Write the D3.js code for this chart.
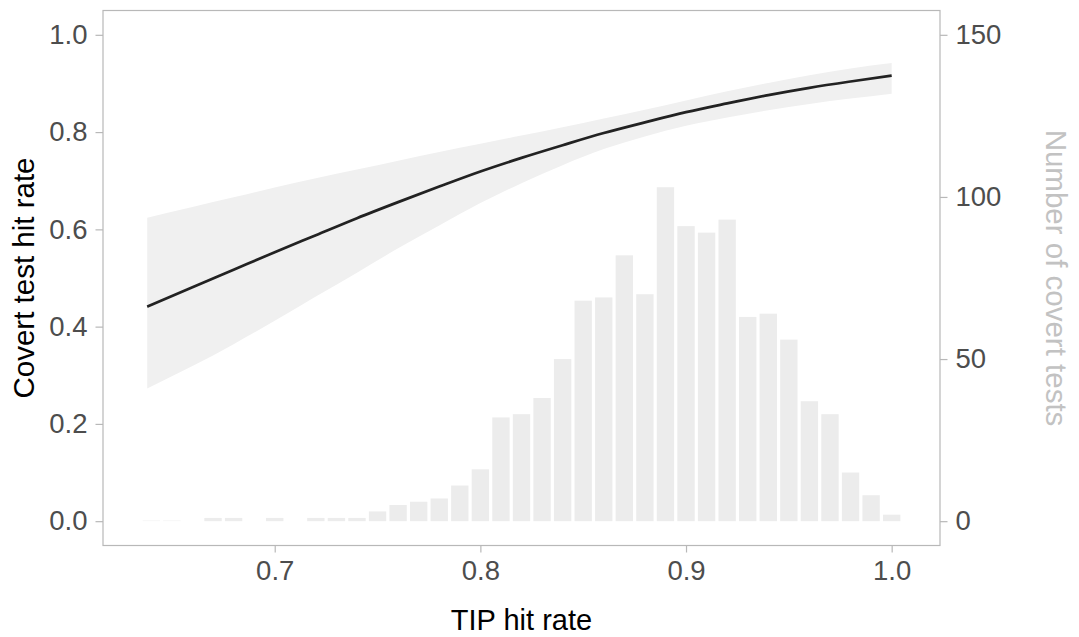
<!DOCTYPE html>
<html>
<head>
<meta charset="utf-8">
<script src="https://cdn.jsdelivr.net/npm/d3@7"></script>
<style>
	body { margin:0; background:#fff; }
	svg { display:block; font-family:'Liberation Sans', Arial, sans-serif; }
</style>
</head>
<body>
<svg id="chart" width="1079" height="637"></svg>
<script>

//histogram data (bin centres, bin width 0.01)
var binCenters = [0.64,0.65,0.66,0.67,0.68,0.69,0.70,0.71,0.72,0.73,0.74,0.75,0.76,0.77,0.78,0.79,
				0.80,0.81,0.82,0.83,0.84,0.85,0.86,0.87,0.88,0.89,0.90,0.91,0.92,0.93,0.94,0.95,
				0.96,0.97,0.98,0.99,1.00];
var binCounts = [0.3,0.3,0,1,1,0,1,0,1,1,1,3,5,6,7,11,
				16,32,33,38,50,68,69,82,70,103,91,89,93,63,64,56,
				37,33,15,8,2];

//fitted curve + confidence band
var fitX  = [0.638,0.66,0.68,0.70,0.72,0.74,0.76,0.78,0.80,0.82,0.84,0.86,0.88,0.90,0.92,0.94,0.96,0.98,1.00];
var fitY  = [0.441,0.481,0.517,0.553,0.588,0.623,0.656,0.688,0.719,0.747,0.773,0.798,0.820,0.841,0.859,0.876,0.891,0.904,0.916];
var fitLo = [0.273,0.319,0.364,0.412,0.462,0.511,0.561,0.608,0.654,0.695,0.732,0.765,0.791,0.813,0.830,0.845,0.858,0.869,0.879];
var fitHi = [0.624,0.646,0.666,0.686,0.705,0.723,0.741,0.759,0.776,0.793,0.810,0.828,0.846,0.865,0.884,0.901,0.917,0.931,0.942];

//tick labels
var xTicks = [0.7,0.8,0.9,1.0];
var yTicks = [0,0.2,0.4,0.6,0.8,1.0];
var countTicks = [0,50,100,150];

var panel = {left:103, right:940, top:10.5, bottom:545.5};

var x = d3.scaleLinear().domain([0.6165,1.0235]).range([panel.left,panel.right]);
var y = d3.scaleLinear().domain([-0.05,1.05]).range([panel.bottom,panel.top]);
var yCount = d3.scaleLinear().domain([-7.5,157.5]).range([panel.bottom,panel.top]);

var svg = d3.select('#chart');

//bars
var bins = binCenters.map(function(c,i){ return {c:c, n:binCounts[i]}; });

svg.append('g')
	.selectAll('rect')
	.data(bins)
	.enter()
	.append('rect')
	.attr('x',function(d){ return x(d.c - 0.005) + 1.6 })
	.attr('width',function(d){ return x(d.c + 0.005) - x(d.c - 0.005) - 3.2 })
	.attr('y',function(d){ return yCount(d.n) })
	.attr('height',function(d){ return yCount(0) - yCount(d.n) })
	.attr('fill',function(d){ return d.n < 1 ? '#f6f6f6' : '#ececec' });

//ribbon + line
var fit = fitX.map(function(v,i){ return {x:v, y:fitY[i], lo:fitLo[i], hi:fitHi[i]}; });

var band = d3.area()
	.curve(d3.curveMonotoneX)
	.x(function(d){ return x(d.x) })
	.y0(function(d){ return y(d.lo) })
	.y1(function(d){ return y(d.hi) });

svg.append('path')
	.datum(fit)
	.attr('d',band)
	.attr('fill','#f0f0f0');

var line = d3.line()
	.curve(d3.curveMonotoneX)
	.x(function(d){ return x(d.x) })
	.y(function(d){ return y(d.y) });

svg.append('path')
	.datum(fit)
	.attr('d',line)
	.attr('fill','none')
	.attr('stroke','#222')
	.attr('stroke-width',2.7);

//panel border
svg.append('rect')
	.attr('x',panel.left)
	.attr('y',panel.top)
	.attr('width',panel.right - panel.left)
	.attr('height',panel.bottom - panel.top)
	.attr('fill','none')
	.attr('stroke','#b8b8b8')
	.attr('stroke-width',1.2);

//axes
function styleAxis(g){
	g.select('.domain').remove();
	g.selectAll('line').attr('stroke','#b8b8b8').attr('stroke-width',1.2);
	g.selectAll('text')
		.style('font-family',"'Liberation Sans', Arial, sans-serif")
		.style('font-size','27.5px')
		.attr('fill','#4d4d4d');
}

svg.append('g')
	.attr('transform','translate(0,'+panel.bottom+')')
	.call(d3.axisBottom(x).tickValues(xTicks).tickFormat(d3.format('.1f')).tickSize(7).tickPadding(8))
	.call(styleAxis);

svg.append('g')
	.attr('transform','translate('+panel.left+',0)')
	.call(d3.axisLeft(y).tickValues(yTicks).tickFormat(d3.format('.1f')).tickSize(7.5).tickPadding(8))
	.call(styleAxis);

svg.append('g')
	.attr('transform','translate('+panel.right+',0)')
	.call(d3.axisRight(yCount).tickValues(countTicks).tickSize(7.5).tickPadding(8))
	.call(styleAxis);

//axis titles
svg.append('text')
	.text('TIP hit rate')
	.attr('x',(panel.left + panel.right)/2)
	.attr('y',630)
	.style('text-anchor','middle')
	.style('font-size','29px')
	.attr('fill','#000');

svg.append('text')
	.text('Covert test hit rate')
	.attr('transform','translate(23,'+(panel.top + panel.bottom)/2+') rotate(-90)')
	.attr('dy','0.36em')
	.style('text-anchor','middle')
	.style('font-size','29.5px')
	.attr('fill','#000');

svg.append('text')
	.text('Number of covert tests')
	.attr('transform','translate(1057,'+(panel.top + panel.bottom)/2+') rotate(90)')
	.attr('dy','0.36em')
	.style('text-anchor','middle')
	.style('font-size','29.5px')
	.attr('fill','#c2c2c2');

</script>
</body>
</html>
